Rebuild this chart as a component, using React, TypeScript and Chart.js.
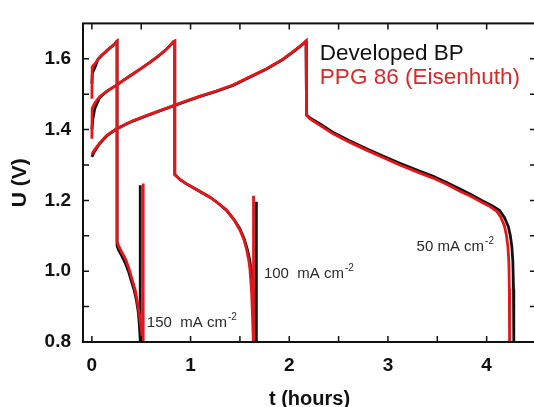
import React, { useEffect, useRef } from 'react';
import { Chart, registerables } from 'chart.js';
Chart.register(...registerables);

const FONT = '"Liberation Sans", Arial, Helvetica, sans-serif';

// ---------- Developed BP (black) ----------
const bp150T = [0, 0.005, 0.03, 0.06, 0.1, 0.145, 0.18, 0.213, 0.235, 0.25, 0.255, 0.255, 0.27, 0.3, 0.335, 0.37, 0.402, 0.43, 0.453, 0.47, 0.48, 0.487, 0.49, 0.49];
const bp150U = [1.53, 1.56, 1.575, 1.598, 1.61, 1.621, 1.63, 1.637, 1.643, 1.649, 1.65, 1.072, 1.06, 1.045, 1.025, 1.0, 0.97, 0.945, 0.915, 0.885, 0.852, 0.82, 0.8, 1.243];

const bp100T = [0, 0.01, 0.03, 0.078, 0.15, 0.246, 0.33, 0.415, 0.5, 0.584, 0.67, 0.753, 0.8, 0.83, 0.84, 0.84, 0.892, 0.95, 1.05, 1.196, 1.28, 1.365, 1.44, 1.499, 1.545, 1.575, 1.6, 1.615, 1.635, 1.65, 1.662, 1.667, 1.667];
const bp100U = [1.4, 1.43, 1.46, 1.49, 1.508, 1.525, 1.541, 1.557, 1.573, 1.589, 1.607, 1.626, 1.64, 1.649, 1.65, 1.273, 1.259, 1.248, 1.232, 1.209, 1.192, 1.172, 1.146, 1.12, 1.09, 1.062, 1.03, 1.0, 0.943, 0.87, 0.83, 0.8, 1.196];

const bp50T = [0, 0.02, 0.078, 0.15, 0.246, 0.33, 0.415, 0.584, 0.854, 1.09, 1.26, 1.43, 1.6, 1.77, 1.935, 2.07, 2.14, 2.17, 2.175, 2.175, 2.21, 2.3, 2.445, 2.6, 2.783, 2.95, 3.12, 3.3, 3.458, 3.6, 3.73, 3.85, 3.95, 4.05, 4.13, 4.18, 4.22, 4.24, 4.255, 4.265, 4.272, 4.275];
const bp50U = [1.323, 1.335, 1.36, 1.382, 1.401, 1.413, 1.424, 1.442, 1.47, 1.493, 1.508, 1.525, 1.548, 1.571, 1.598, 1.626, 1.642, 1.65, 1.65, 1.442, 1.433, 1.418, 1.392, 1.37, 1.346, 1.325, 1.305, 1.285, 1.268, 1.25, 1.232, 1.215, 1.2, 1.186, 1.172, 1.152, 1.126, 1.1, 1.07, 1.03, 0.95, 0.8];

// ---------- PPG 86 (Eisenhuth) (red) ----------
const ppg150T = [0, 0.003, 0.01, 0.03, 0.06, 0.1, 0.145, 0.18, 0.213, 0.235, 0.25, 0.255, 0.255, 0.27, 0.3, 0.34, 0.375, 0.41, 0.44, 0.46, 0.48, 0.495, 0.508, 0.52, 0.52];
const ppg150U = [1.487, 1.575, 1.58, 1.585, 1.598, 1.61, 1.621, 1.63, 1.637, 1.643, 1.649, 1.65, 1.085, 1.072, 1.055, 1.035, 1.008, 0.975, 0.945, 0.915, 0.88, 0.85, 0.82, 0.8, 1.248];

const ppg100T = [0, 0.003, 0.03, 0.078, 0.15, 0.246, 0.33, 0.415, 0.5, 0.584, 0.67, 0.753, 0.8, 0.83, 0.84, 0.84, 0.892, 0.95, 1.05, 1.196, 1.28, 1.365, 1.44, 1.499, 1.54, 1.567, 1.59, 1.601, 1.618, 1.628, 1.636, 1.638];
const ppg100U = [1.374, 1.46, 1.475, 1.493, 1.508, 1.525, 1.541, 1.557, 1.573, 1.589, 1.607, 1.626, 1.64, 1.649, 1.65, 1.273, 1.259, 1.248, 1.232, 1.209, 1.192, 1.172, 1.145, 1.117, 1.09, 1.062, 1.03, 1.007, 0.943, 0.87, 0.8, 1.213];

const ppg50T = [0, 0.02, 0.078, 0.15, 0.246, 0.33, 0.415, 0.584, 0.854, 1.09, 1.26, 1.43, 1.6, 1.77, 1.935, 2.07, 2.14, 2.17, 2.175, 2.175, 2.21, 2.3, 2.445, 2.6, 2.783, 2.95, 3.12, 3.3, 3.458, 3.6, 3.73, 3.85, 3.95, 4.02, 4.1, 4.145, 4.18, 4.2, 4.215, 4.225, 4.23, 4.232];
const ppg50U = [1.33, 1.34, 1.362, 1.384, 1.402, 1.414, 1.425, 1.443, 1.471, 1.494, 1.509, 1.526, 1.549, 1.572, 1.599, 1.627, 1.643, 1.65, 1.65, 1.44, 1.43, 1.414, 1.388, 1.366, 1.342, 1.321, 1.3, 1.28, 1.263, 1.245, 1.226, 1.21, 1.195, 1.185, 1.17, 1.152, 1.128, 1.102, 1.07, 1.025, 0.95, 0.8];

// ---------- axes / text ----------
const xTickValues = [0, 1, 2, 3, 4];
const yTickValues = [0.8, 1.0, 1.2, 1.4, 1.6];
const xMinorTicks = [0, 0.5, 1, 1.5, 2, 2.5, 3, 3.5, 4];
const yMinorTicks = [0.9, 1.0, 1.1, 1.2, 1.3, 1.4, 1.5, 1.6];
const legendNames = ['Developed BP', 'PPG 86 (Eisenhuth)'];
const legendColors = ['#111111', '#d42a2a'];
const legendT = 2.31;
const legendU = [1.597, 1.5285];
const annotMain = ['150  mA cm', '100  mA cm', '50 mA cm'];
const annotSup = ['-2', '-2', '-2'];
const annotT = [0.557, 1.743, 3.29];
const annotU = [0.8412, 0.9814, 1.0576];

const BLACK = '#111111';
const RED = '#e3161b';

function mk(t: number[], u: number[]) {
  return t.map((x, i) => ({ x, y: u[i] }));
}

const decor = {
  id: 'decor',
  afterDatasetsDraw(chart: any) {
    const { ctx, chartArea: a, scales } = chart;
    const xs = scales.x;
    const ys = scales.y;
    ctx.save();
    ctx.strokeStyle = '#111';
    ctx.lineWidth = 2;
    ctx.strokeRect(a.left, a.top, a.right - a.left, a.bottom - a.top);
    ctx.lineWidth = 1.5;
    ctx.beginPath();
    for (const v of xMinorTicks) {
      const px = xs.getPixelForValue(v);
      ctx.moveTo(px, a.bottom);
      ctx.lineTo(px, a.bottom - 6);
      ctx.moveTo(px, a.top);
      ctx.lineTo(px, a.top + 6);
    }
    for (const v of yMinorTicks) {
      const py = ys.getPixelForValue(v);
      ctx.moveTo(a.left, py);
      ctx.lineTo(a.left + 6, py);
      ctx.moveTo(a.right, py);
      ctx.lineTo(a.right - 6, py);
    }
    ctx.stroke();

    ctx.textAlign = 'left';
    ctx.textBaseline = 'alphabetic';
    ctx.font = `22.5px ${FONT}`;
    legendNames.forEach((n, i) => {
      ctx.fillStyle = legendColors[i];
      ctx.fillText(n, xs.getPixelForValue(legendT), ys.getPixelForValue(legendU[i]));
    });

    annotMain.forEach((m, i) => {
      const x = xs.getPixelForValue(annotT[i]);
      const y = ys.getPixelForValue(annotU[i]);
      ctx.fillStyle = '#2a2a2a';
      ctx.font = `15px ${FONT}`;
      ctx.fillText(m, x, y);
      const w = ctx.measureText(m).width;
      ctx.font = `10px ${FONT}`;
      ctx.fillText(annotSup[i], x + w + 1, y - 7);
    });
    ctx.restore();
  },
};

export default function App() {
  const ref = useRef<HTMLCanvasElement | null>(null);
  useEffect(() => {
    if (!ref.current) return;
    const ds = (label: string, t: number[], u: number[], color: string) => ({
      label,
      data: mk(t, u),
      showLine: true,
      borderColor: color,
      backgroundColor: color,
      borderWidth: 2.8,
      pointRadius: 0,
      tension: 0,
      fill: false,
    });
    const chart = new Chart(ref.current, {
      type: 'scatter',
      data: {
        datasets: [
          ds('PPG 86 150', ppg150T, ppg150U, RED),
          ds('PPG 86 100', ppg100T, ppg100U, RED),
          ds('PPG 86 50', ppg50T, ppg50U, RED),
          ds('Developed BP 150', bp150T, bp150U, BLACK),
          ds('Developed BP 100', bp100T, bp100U, BLACK),
          ds('Developed BP 50', bp50T, bp50U, BLACK),
        ],
      },
      options: {
        animation: false,
        responsive: false,
        devicePixelRatio: 1,
        layout: { padding: { left: 0, top: 15, right: 24, bottom: 0 } },
        plugins: { legend: { display: false }, tooltip: { enabled: false } },
        scales: {
          x: {
            type: 'linear',
            min: -0.09,
            max: 4.5,
            grid: { display: false, drawTicks: false },
            border: { display: false },
            afterBuildTicks: (s: any) => {
              s.ticks = xTickValues.map((v) => ({ value: v }));
            },
            afterFit: (s: any) => {
              s.height = 65;
            },
            ticks: {
              autoSkip: false,
              maxRotation: 0,
              padding: 12,
              color: '#111',
              font: { family: FONT, size: 19, weight: 'bold' },
              callback: (v: any) => String(Math.round(Number(v))),
            },
            title: {
              display: true,
              text: 't (hours)',
              color: '#111',
              padding: 0,
              font: { family: FONT, size: 20, weight: 'bold', lineHeight: 0.8 },
            },
          },
          y: {
            type: 'linear',
            min: 0.8,
            max: 1.7,
            grid: { display: false, drawTicks: false },
            border: { display: false },
            afterBuildTicks: (s: any) => {
              s.ticks = yTickValues.map((v) => ({ value: v }));
            },
            afterFit: (s: any) => {
              s.width = 83;
            },
            ticks: {
              autoSkip: false,
              padding: 12,
              color: '#111',
              font: { family: FONT, size: 19, weight: 'bold' },
              callback: (v: any) => Number(v).toFixed(1),
            },
            title: {
              display: true,
              text: 'U (V)',
              color: '#111',
              padding: { top: 8, bottom: 0 },
              font: { family: FONT, size: 21, weight: 'bold', lineHeight: 1.2 },
            },
          },
        },
      },
      plugins: [decor],
    } as any);
    return () => chart.destroy();
  }, []);
  return (
    <div
      style={{
        position: 'fixed',
        left: 0,
        top: 0,
        width: 534,
        height: 407,
        overflow: 'hidden',
        background: '#fff',
      }}
    >
      <canvas ref={ref} width={560} height={407} style={{ display: 'block' }} />
    </div>
  );
}
